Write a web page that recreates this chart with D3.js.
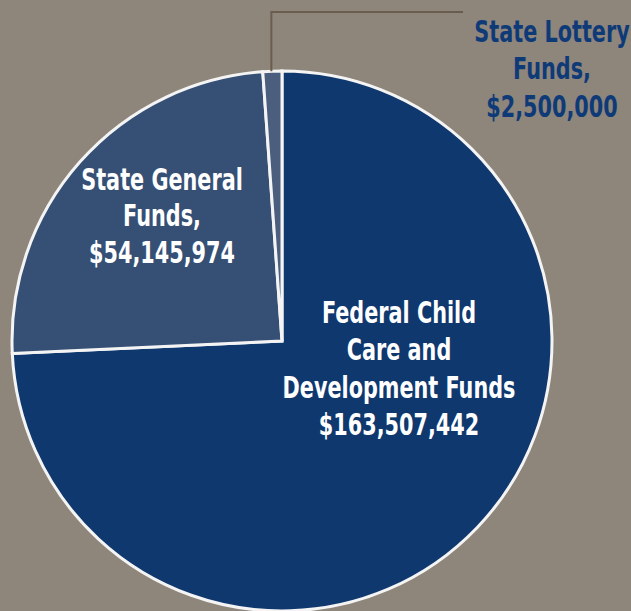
<!DOCTYPE html>
<html>
<head>
<meta charset="utf-8">
<script src="https://cdn.jsdelivr.net/npm/d3@7"></script>
<style>
  html, body { margin: 0; padding: 0; background: #8e857b; }
  svg { display: block; }
</style>
</head>
<body>
<div id="chart"></div>
<script>
// funding sources (dollars)
const sources = ["Federal Child Care and Development Funds", "State General Funds", "State Lottery Funds"];
const amounts = [163507442, 54145974, 2500000];
// label lines as printed on the chart
const labelLines = [
    ["Federal Child", "Care and", "Development Funds", "$163,507,442"],
    ["State General", "Funds,", "$54,145,974"],
    ["State Lottery", "Funds,", "$2,500,000"]
];
const sliceColors = ["#0f386f", "#364f75", "#4b5e7e"];

const width = 631, height = 611;
const cx = 282, cy = 341, radius = 270;

const svg = d3.select("#chart")
    .append("svg")
    .attr("width", width)
    .attr("height", height);

const g = svg.append("g")
    .attr("transform", `translate(${cx},${cy})`);

const data = sources.map((s, i) => ({ name: s, value: amounts[i], lines: labelLines[i], color: sliceColors[i] }));

const pie = d3.pie()
    .sort(null)
    .value(d => d.value);

const arc = d3.arc()
    .innerRadius(0)
    .outerRadius(radius);

const arcs = pie(data);

g.selectAll("path.slice")
    .data(arcs)
    .join("path")
    .attr("class", "slice")
    .attr("d", arc)
    .attr("fill", d => d.data.color)
    .attr("stroke", "#f4f4f4")
    .attr("stroke-width", 3)
    .attr("stroke-linejoin", "miter");

// leader line for the lottery slice
const lot = arcs[2];
const mid = (lot.startAngle + lot.endAngle) / 2;
const lx = radius * Math.sin(mid) - 1;
const ly = -radius * Math.cos(mid);
g.append("path")
    .attr("d", `M${lx},${ly} L${lx},${12 - cy} L${463 - cx},${12 - cy}`)
    .attr("fill", "none")
    .attr("stroke", "#6b5d4e")
    .attr("stroke-width", 2);

const fontFamily = "'Liberation Sans Narrow', 'DejaVu Sans', sans-serif";
const fontSize = 29.5;

// the original uses a condensed face: squeeze to match its width
const probe = svg.append("text")
    .style("font-family", fontFamily)
    .style("font-weight", "bold")
    .style("font-size", fontSize + "px")
    .text("Development Funds");
const squeeze = Math.min(1, 233 / probe.node().getComputedTextLength());
probe.remove();

// labels (absolute positions of the first line, line spacing)
const labelPos = [
    { x: 399, y: 323, dy: 37.5, fill: "#ffffff" },
    { x: 162, y: 190, dy: 36.5, fill: "#ffffff" },
    { x: 552, y: 42, dy: 37.5, fill: "#0f3a78" }
];

arcs.forEach((d, i) => {
    const p = labelPos[i];
    const t = svg.append("text")
        .attr("transform", `translate(${p.x},${p.y}) scale(${squeeze},1)`)
        .attr("text-anchor", "middle")
        .attr("fill", p.fill)
        .style("font-family", fontFamily)
        .style("font-weight", "bold")
        .style("font-size", fontSize + "px");
    d.data.lines.forEach((line, j) => {
        t.append("tspan")
            .attr("x", 0)
            .attr("y", j * p.dy)
            .text(line);
    });
});
</script>
</body>
</html>
